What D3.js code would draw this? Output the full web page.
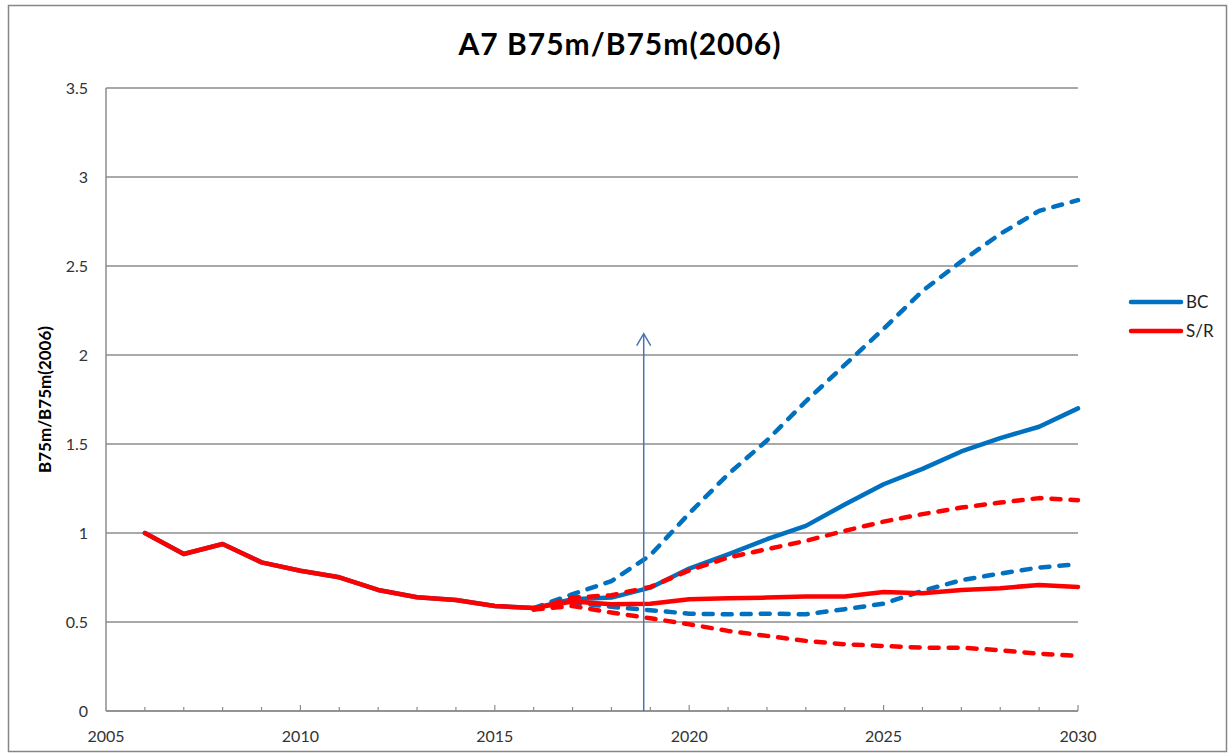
<!DOCTYPE html>
<html>
<head>
<meta charset="utf-8">
<script src="https://cdn.jsdelivr.net/npm/d3@7"></script>
<style>
  body { margin: 0; background: #fff; }
  text { font-family: Lato, "Open Sans", sans-serif; }
</style>
</head>
<body>
<script>
// history shared by all runs
var histYears = [2006, 2007, 2008, 2009, 2010, 2011, 2012, 2013, 2014, 2015, 2016];
var histVals  = [1.0, 0.882, 0.938, 0.835, 0.788, 0.751, 0.68, 0.639, 0.624, 0.59, 0.578];

// projections
var projYears = [2016, 2017, 2018, 2019, 2020, 2021, 2022, 2023, 2024, 2025, 2026, 2027, 2028, 2029, 2030];
var bcMed   = [0.578, 0.628, 0.637, 0.693, 0.80, 0.88, 0.965, 1.04, 1.16, 1.274, 1.36, 1.458, 1.533, 1.597, 1.70];
var bcHigh  = [0.578, 0.656, 0.73, 0.875, 1.11, 1.33, 1.52, 1.74, 1.944, 2.147, 2.36, 2.526, 2.68, 2.81, 2.87];
var bcLow   = [0.578, 0.61, 0.585, 0.566, 0.547, 0.543, 0.547, 0.543, 0.572, 0.603, 0.675, 0.735, 0.772, 0.806, 0.825];
var srMed   = [0.57, 0.615, 0.60, 0.603, 0.628, 0.633, 0.637, 0.643, 0.643, 0.669, 0.662, 0.68, 0.69, 0.708, 0.697];
var srHigh  = [0.57, 0.637, 0.65, 0.697, 0.79, 0.862, 0.909, 0.956, 1.012, 1.064, 1.106, 1.143, 1.171, 1.196, 1.184];
var srLow   = [0.57, 0.59, 0.553, 0.521, 0.487, 0.45, 0.422, 0.394, 0.375, 0.365, 0.356, 0.356, 0.341, 0.322, 0.309];

var yTicks = [0, 0.5, 1, 1.5, 2, 2.5, 3, 3.5];
var xTicks = [2005, 2010, 2015, 2020, 2025, 2030];
var arrowYear = 2018.83, arrowTop = 2.12;

var width = 1230, height = 755;
var mLeft = 106, mRight = 1078, mTop = 88, mBottom = 711;

var blue = "#0070C0", red = "#FF0000";

var svg = d3.select("body").append("svg")
    .attr("width", width)
    .attr("height", height);

svg.append("rect")
    .attr("x", 8.5).attr("y", 5.5)
    .attr("width", 1218).attr("height", 746)
    .attr("fill", "none").attr("stroke", "#868686").attr("stroke-width", 1.5);

var x = d3.scaleLinear().domain([2005, 2030]).range([mLeft, mRight]);
var y = d3.scaleLinear().domain([0, 3.5]).range([mBottom, mTop]);

// gridlines
svg.append("g")
    .selectAll("line")
    .data(yTicks)
    .enter().append("line")
    .attr("x1", mLeft).attr("x2", mRight)
    .attr("y1", function(d) { return y(d); })
    .attr("y2", function(d) { return y(d); })
    .attr("stroke", "#8c8c8c").attr("stroke-width", 1.3);

// y axis labels
svg.append("g")
    .selectAll("text")
    .data(yTicks)
    .enter().append("text")
    .attr("x", mLeft - 18)
    .attr("y", function(d) { return y(d) + 5.5; })
    .attr("text-anchor", "end")
    .attr("font-size", 16)
    .attr("fill", "#333")
    .text(function(d) { return d; });

// axis lines
svg.append("line").attr("x1", mLeft).attr("x2", mLeft).attr("y1", mTop).attr("y2", mBottom)
    .attr("stroke", "#8c8c8c").attr("stroke-width", 1.5);
svg.append("line").attr("x1", mLeft).attr("x2", mRight).attr("y1", mBottom).attr("y2", mBottom)
    .attr("stroke", "#8c8c8c").attr("stroke-width", 1.5);

// year ticks (inside)
svg.append("g")
    .selectAll("line")
    .data(d3.range(2006, 2031))
    .enter().append("line")
    .attr("x1", function(d) { return x(d); })
    .attr("x2", function(d) { return x(d); })
    .attr("y1", mBottom)
    .attr("y2", function(d) { return d % 5 == 0 ? mBottom - 6 : mBottom - 4; })
    .attr("stroke", "#8c8c8c").attr("stroke-width", 1.2);

svg.append("g")
    .selectAll("text")
    .data(xTicks)
    .enter().append("text")
    .attr("x", function(d) { return x(d); })
    .attr("y", mBottom + 31)
    .attr("text-anchor", "middle")
    .attr("font-size", 16)
    .attr("fill", "#333")
    .text(function(d) { return d; });

// title and axis label
svg.append("text")
    .attr("x", 620).attr("y", 55)
    .attr("text-anchor", "middle")
    .attr("font-size", 30).attr("font-weight", "bold")
    .attr("letter-spacing", 1)
    .attr("fill", "#000")
    .text("A7 B75m/B75m(2006)");

svg.append("text")
    .attr("transform", "translate(51," + ((mTop + mBottom) / 2) + ") rotate(-90)")
    .attr("text-anchor", "middle")
    .attr("font-size", 17).attr("font-weight", "bold")
    .attr("fill", "#000")
    .text("B75m/B75m(2006)");

var line = d3.line()
    .x(function(d) { return x(d[0]); })
    .y(function(d) { return y(d[1]); });

function pts(years, vals) {
    return years.map(function(yr, i) { return [yr, vals[i]]; });
}

var series = [
    {pts: pts(projYears, bcHigh), color: blue, dash: true},
    {pts: pts(projYears, bcLow), color: blue, dash: true},
    {pts: pts(histYears, histVals).concat(pts(projYears, bcMed).slice(1)), color: blue, dash: false},
    {pts: pts(projYears, srHigh), color: red, dash: true},
    {pts: pts(projYears, srLow), color: red, dash: true},
    {pts: pts(histYears, histVals).concat(pts(projYears, srMed).slice(1)), color: red, dash: false}
];

svg.append("g")
    .selectAll("path")
    .data(series)
    .enter().append("path")
    .attr("d", function(d) { return line(d.pts); })
    .attr("fill", "none")
    .attr("stroke", function(d) { return d.color; })
    .attr("stroke-width", 4.5)
    .attr("stroke-linecap", "round")
    .attr("stroke-linejoin", "round")
    .attr("stroke-dasharray", function(d) { return d.dash ? "9,10" : null; });

// arrow marking the current year
var ax = x(arrowYear), ayTop = y(arrowTop);
svg.append("line")
    .attr("x1", ax).attr("x2", ax).attr("y1", mBottom).attr("y2", ayTop)
    .attr("stroke", "#4a72b8").attr("stroke-width", 1.5);
svg.append("path")
    .attr("d", "M" + (ax - 7) + "," + (ayTop + 12) + "L" + ax + "," + ayTop + "L" + (ax + 7) + "," + (ayTop + 12))
    .attr("fill", "none").attr("stroke", "#4a72b8").attr("stroke-width", 1.5);

// legend
var legend = svg.append("g");
[{name: "BC", color: blue}, {name: "S/R", color: red}].forEach(function(d, i) {
    var ly = 302 + i * 29;
    legend.append("line")
        .attr("x1", 1131).attr("x2", 1181).attr("y1", ly).attr("y2", ly)
        .attr("stroke", d.color).attr("stroke-width", 4.5).attr("stroke-linecap", "round");
    legend.append("text")
        .attr("x", 1186).attr("y", ly + 6)
        .attr("font-size", 17).attr("fill", "#222")
        .text(d.name);
});
</script>
</body>
</html>
